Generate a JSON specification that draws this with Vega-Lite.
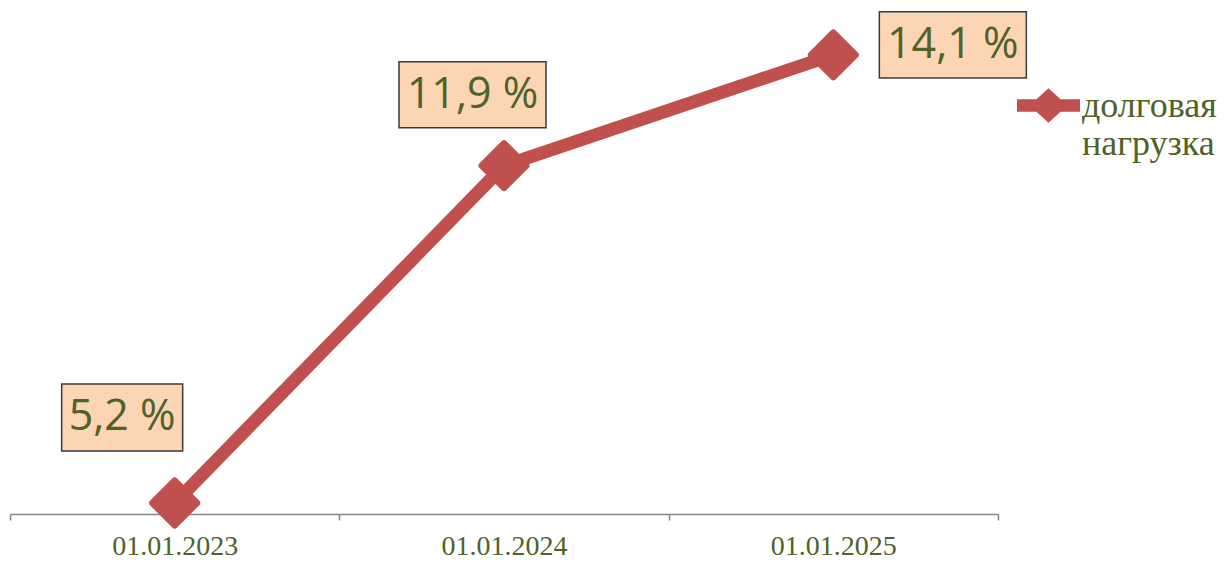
{
  "$schema": "https://vega.github.io/schema/vega-lite/v6.json",
  "width": 988,
  "height": 514,
  "autosize": {"type": "none"},
  "padding": {"left": 10, "top": 0, "right": 226, "bottom": 48},
  "background": "white",
  "config": {"view": {"stroke": null}},
  "data": {"values": [
    {"date": "01.01.2023", "value": 5.2, "label": "5,2 %", "series": "долговая нагрузка"},
    {"date": "01.01.2024", "value": 11.9, "label": "11,9 %", "series": "долговая нагрузка"},
    {"date": "01.01.2025", "value": 14.1, "label": "14,1 %", "series": "долговая нагрузка"}
  ]},
  "encoding": {
    "x": {"field": "date", "type": "nominal", "sort": null,
      "scale": {"paddingInner": 0, "paddingOuter": 0},
      "axis": {"title": null, "labelAngle": 0, "labelFont": "Liberation Serif", "labelFontSize": 28,
        "labelColor": "#4F6228", "labelPadding": 12, "domainColor": "#868686", "domainWidth": 1.5,
        "tickColor": "#868686", "tickWidth": 1.5, "tickSize": 6, "tickBand": "extent", "grid": false}},
    "y": {"field": "value", "type": "quantitative",
      "scale": {"domain": [4.98, 15.19], "nice": false, "zero": false}, "axis": null}
  },
  "layer": [
    {"mark": {"type": "line", "color": "#C0504D", "strokeWidth": 13, "strokeCap": "round", "strokeJoin": "round"}},
    {"mark": {"type": "point", "shape": "diamond", "filled": true, "size": 1936, "opacity": 1,
      "stroke": "#C0504D", "strokeWidth": 7, "strokeJoin": "round"},
     "encoding": {"color": {"field": "series", "type": "nominal",
       "scale": {"range": ["#C0504D"]},
       "legend": {"title": null, "orient": "none", "legendX": 1007, "legendY": 74, "padding": 0,
         "symbolType": "M-1,-0.2 H1 V0.2 H-1 Z M-0.6,0 L0,-0.55 L0.6,0 L0,0.55 Z",
         "symbolSize": 3969, "symbolStrokeWidth": 0, "symbolFillColor": "#C0504D",
         "labelFont": "Liberation Serif", "labelFontSize": 36, "labelColor": "#4F6228",
         "labelOffset": 2, "labelLimit": 300,
         "labelExpr": "split(datum.label, ' ')",
         "encode": {"labels": {"update": {"lineHeight": {"value": 44}}}}}}}},
    {"transform": [{"filter": "datum.date == '01.01.2023'"}],
     "mark": {"type": "point", "shape": "M-1,-0.554 H1 V0.554 H-1 Z", "size": 14641, "filled": true,
       "fill": "#FCD5B5", "stroke": "#3a3a3a", "strokeWidth": 1.5, "opacity": 1, "xOffset": -52.5, "yOffset": -85.5}},
    {"transform": [{"filter": "datum.date == '01.01.2023'"}],
     "mark": {"type": "text", "font": "Open Sans", "fontSize": 43, "color": "#4F6228", "baseline": "middle",
       "align": "center", "xOffset": -52.5, "yOffset": -85.5},
     "encoding": {"text": {"field": "label"}}},
    {"transform": [{"filter": "datum.date == '01.01.2024'"}],
     "mark": {"type": "point", "shape": "M-1,-0.449 H1 V0.449 H-1 Z", "size": 21609, "filled": true,
       "fill": "#FCD5B5", "stroke": "#3a3a3a", "strokeWidth": 1.5, "opacity": 1, "xOffset": -31.5, "yOffset": -71}},
    {"transform": [{"filter": "datum.date == '01.01.2024'"}],
     "mark": {"type": "text", "font": "Open Sans", "fontSize": 43, "color": "#4F6228", "baseline": "middle",
       "align": "center", "xOffset": -31.5, "yOffset": -71},
     "encoding": {"text": {"field": "label"}}},
    {"transform": [{"filter": "datum.date == '01.01.2025'"}],
     "mark": {"type": "point", "shape": "M-1,-0.449 H1 V0.449 H-1 Z", "size": 21609, "filled": true,
       "fill": "#FCD5B5", "stroke": "#3a3a3a", "strokeWidth": 1.5, "opacity": 1, "xOffset": 119.5, "yOffset": -10}},
    {"transform": [{"filter": "datum.date == '01.01.2025'"}],
     "mark": {"type": "text", "font": "Open Sans", "fontSize": 43, "color": "#4F6228", "baseline": "middle",
       "align": "center", "xOffset": 119.5, "yOffset": -10},
     "encoding": {"text": {"field": "label"}}}
  ]
}
